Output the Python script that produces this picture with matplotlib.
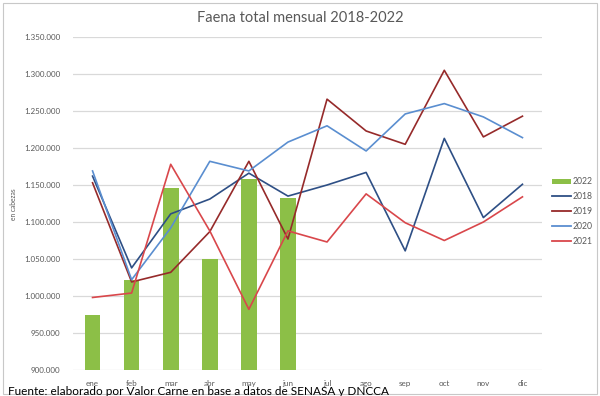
import matplotlib
matplotlib.use("Agg")
import matplotlib.pyplot as plt
import numpy as np
from matplotlib.patches import Rectangle, Patch
from matplotlib.lines import Line2D
from matplotlib.ticker import FuncFormatter

months = ['ene', 'feb', 'mar', 'abr', 'may', 'jun', 'jul', 'ago', 'sep', 'oct', 'nov', 'dic']
y2022 = [974000, 1021000, 1146000, 1050000, 1158000, 1133000]
y2018 = [1162000, 1038000, 1111000, 1131000, 1166000, 1135000, 1150000, 1167000, 1061000, 1213000, 1106000, 1151000]
y2019 = [1153000, 1019000, 1032000, 1087000, 1182000, 1077000, 1266000, 1223000, 1205000, 1305000, 1215000, 1243000]
y2020 = [1169000, 1022000, 1092000, 1182000, 1169000, 1208000, 1230000, 1196000, 1246000, 1260000, 1242000, 1214000]
y2021 = [998000, 1004000, 1178000, 1088000, 982000, 1088000, 1073000, 1138000, 1099000, 1075000, 1100000, 1134000]
yticks = [900000, 950000, 1000000, 1050000, 1100000, 1150000, 1200000, 1250000, 1300000, 1350000]

title = 'Faena total mensual 2018-2022'
ylabel = 'en cabezas'
source = 'Fuente: elaborado por Valor Carne en base a datos de SENASA y DNCCA'

c2022 = '#8CBF47'
c2018 = '#2E4F85'
c2019 = '#962A2A'
c2020 = '#5A8ED0'
c2021 = '#D9474B'
gray = '#595959'

plt.rcParams['font.family'] = ['Lato', 'DejaVu Sans']

W, H = 600, 396
fig = plt.figure(figsize=(W / 100, H / 100), dpi=100)
ax = fig.add_axes([73 / W, 1 - 370 / H, (542 - 73) / W, (370 - 37) / H])

x = np.arange(len(months))
ax.bar(x[:len(y2022)], y2022, width=0.4, color=c2022, zorder=2)
lw = 1.2
ax.plot(x, y2018, color=c2018, lw=lw, zorder=3)
ax.plot(x, y2019, color=c2019, lw=lw, zorder=3)
ax.plot(x, y2020, color=c2020, lw=lw, zorder=3)
ax.plot(x, y2021, color=c2021, lw=lw, zorder=3)

ax.set_xlim(-0.5, len(months) - 0.5)
ax.set_ylim(yticks[0], yticks[-1])
ax.set_yticks(yticks)
ax.yaxis.set_major_formatter(FuncFormatter(lambda v, p: f'{int(v):,}'.replace(',', '.')))
ax.set_xticks(x)
ax.set_xticklabels(months)
ax.tick_params(axis='both', length=0, colors=gray, labelsize=5.8)
ax.tick_params(axis='x', pad=7)
ax.tick_params(axis='y', pad=9)
ax.grid(axis='y', color='#D9D9D9', lw=0.9, zorder=0)
for s in ax.spines.values():
    s.set_visible(False)
ax.set_ylabel(ylabel, fontsize=4.8, color=gray)
ax.yaxis.set_label_coords(17 / W, 1 - 204 / H, transform=fig.transFigure)

fig.text(0.5, 1 - 18 / H, title, ha='center', va='center', fontsize=10.5, color=gray)

handles = [Patch(facecolor=c2022, edgecolor='none'),
           Line2D([], [], color=c2018, lw=1.3),
           Line2D([], [], color=c2019, lw=1.3),
           Line2D([], [], color=c2020, lw=1.3),
           Line2D([], [], color=c2021, lw=1.3)]
labels = ['2022', '2018', '2019', '2020', '2021']
leg = fig.legend(handles, labels, loc='upper left', bbox_to_anchor=(548 / W, 1 - 173 / H),
                 frameon=False, fontsize=6.2, handlelength=2.2, handleheight=0.5,
                 handletextpad=0.2, labelspacing=0.68, borderpad=0)
for t in leg.get_texts():
    t.set_color(gray)

# chart area frame
fig.patches.append(Rectangle((3 / W, 1 - 394 / H), 594 / W, 391 / H, transform=fig.transFigure,
                             fill=False, edgecolor='#C8C8C8', lw=0.8))

src = fig.text(8 / W, 1 - 395 / H, source, ha='left', va='baseline', fontsize=11, color='black')
fig.canvas.draw()
bb = src.get_window_extent()
src.set_fontsize(11 * 379 / bb.width)

fig.savefig('out.png', dpi=100)
